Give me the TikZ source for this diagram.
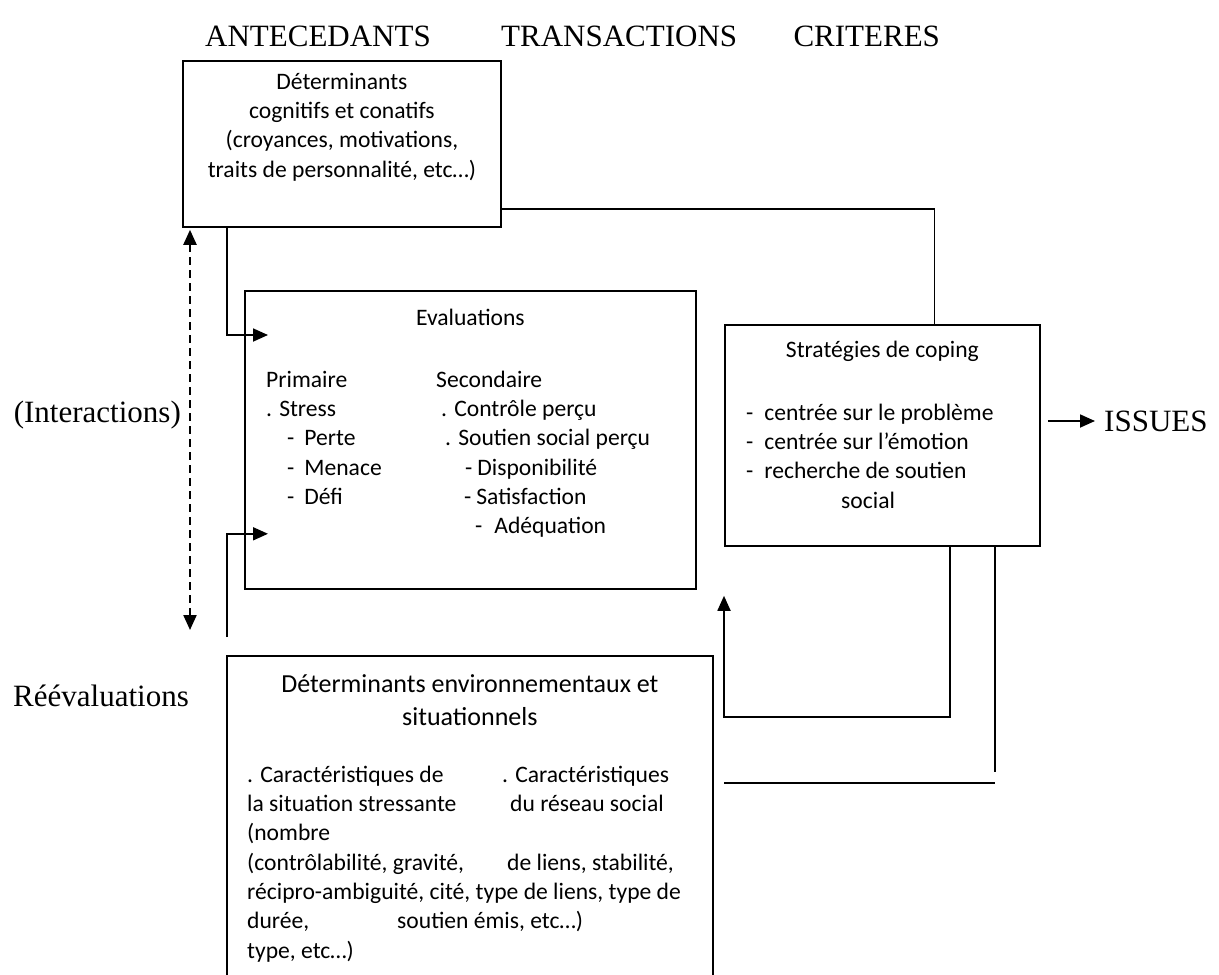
\documentclass[tikz,border=0pt]{standalone}
\usepackage{fontspec}
\setmainfont{Carlito}
\newfontfamily\romain{Liberation Serif}
\usetikzlibrary{arrows.meta,positioning}

\newcommand\fcorps{\fontsize{23.6pt}{29.3pt}\selectfont}
\newcommand\fgrand{\fontsize{26pt}{33pt}\selectfont}
\newcommand\fentete{\romain\fontsize{31pt}{37pt}\selectfont}
\newcommand\colonne[2]{\makebox[#1][l]{#2}}
\newcommand\haut{\rule{0pt}{20pt}}

\tikzset{
  cadre/.style={draw, line width=1.8pt, inner sep=0pt, anchor=north west},
  texte/.style={font=\fcorps, inner sep=0pt},
  entete/.style={font=\fentete, inner sep=0pt},
  lien/.style={line width=1.8pt},
  fleche/.style={lien, ->},
  pointille/.style={line width=2.2pt, dash pattern=on 8pt off 5pt, <->},
}

\begin{document}
\begin{tikzpicture}[x=1pt, y=-1pt, >={Triangle[length=15pt,width=13pt]}]
  \useasboundingbox (0,0) rectangle (1219,975);
  \clip (0,0) rectangle (1219,975);

  % en-tetes
  \node[entete, anchor=west] (ante) at (205,36) {ANTECEDANTS};
  \node[entete, right=70pt of ante] (trans) {TRANSACTIONS};
  \node[entete, right=56pt of trans] (crit) {CRITERES};

  % cadres
  \node[cadre, minimum width=318pt, minimum height=166pt] (cog) at (182,60) {};
  \node[texte, align=center, anchor=north] (cogtxt) at ([yshift=-9pt]cog.north)
    {\haut Déterminants\\cognitifs et conatifs\\(croyances, motivations,\\traits de personnalité, etc…)};

  \node[cadre, minimum width=451pt, minimum height=298pt] (eval) at (244,290) {};
  \node[texte] (evaltitre) at ([yshift=-27pt]eval.north) {Evaluations};
  \node[texte, align=left, anchor=north west] (evalcols) at ([xshift=22pt, yshift=-77pt]eval.north west)
    {\haut\colonne{170pt}{Primaire}Secondaire\\
     \colonne{175pt}{. Stress}. Contrôle perçu\\
     \colonne{179pt}{\hspace*{21pt}-\hspace{10pt}Perte}. Soutien social perçu\\
     \colonne{199pt}{\hspace*{21pt}-\hspace{10pt}Menace}-\hspace{5pt}Disponibilité\\
     \colonne{198pt}{\hspace*{21pt}-\hspace{10pt}Défi}-\hspace{5pt}Satisfaction\\
     \hspace*{209pt}-\hspace{12pt}Adéquation};

  \node[cadre, minimum width=315pt, minimum height=221pt] (strat) at (724,324) {};
  \node[texte] (strattitre) at ([yshift=-27pt]strat.north) {Stratégies de coping};
  \node[texte, align=left, anchor=north west] (stratliste) at ([xshift=22pt, yshift=-76pt]strat.north west)
    {\haut-\hspace{11pt}centrée sur le problème\\
     -\hspace{11pt}centrée sur l’émotion\\
     -\hspace{11pt}recherche de soutien\\
     \hspace*{95pt}social};

  \node[cadre, minimum width=486pt, minimum height=340pt] (env) at (226,655) {};
  \node[font=\fgrand, inner sep=0pt, align=center, anchor=north] (envtitre) at ([yshift=-15pt]env.north)
    {\rule{0pt}{22pt}Déterminants environnementaux et\\situationnels};
  \node[texte, align=left, anchor=north west] (envcorps) at ([xshift=21pt, yshift=-107pt]env.north west)
    {\haut\colonne{255pt}{. Caractéristiques de}. Caractéristiques\\
     \colonne{263pt}{la situation stressante}du réseau social\\
     (nombre\\
     \colonne{260pt}{(contrôlabilité, gravité,}de liens, stabilité,\\
     récipro-ambiguité, cité, type de liens, type de\\
     \colonne{150pt}{durée,}soutien émis, etc…)\\
     type, etc…)};

  % etiquettes laterales
  \node[entete, anchor=east] (inter) at (181,415) {(Interactions)};
  \node[entete, anchor=east] (reeval) at (189,696) {Réévaluations};
  \node[entete, anchor=west] (issues) at (1104,421) {ISSUES};

  % liaisons
  \draw[fleche] ([xshift=45pt]cog.south west) |- ([xshift=24pt, yshift=-45pt]eval.north west);
  \coordinate (basgauche) at (227,637);
  \draw[fleche] (basgauche) |- ([xshift=24pt, yshift=56pt]eval.south west);
  \draw[lien] ([yshift=19pt]cog.south east) -| ([xshift=52pt]strat.north);
  \draw[pointille] ([xshift=8pt, yshift=-2pt]cog.south west) -- ([xshift=-36pt, yshift=25pt]env.north west);
  \coordinate (depart) at (strat.east |- issues.west);
  \draw[fleche] ([xshift=7pt]depart) -- ([xshift=-9pt]issues.west);
  \draw[fleche] ([xshift=226pt]strat.south west) -- ++(0,170) -| ([yshift=-49pt]strat.south west);
  \draw[lien] ([xshift=271pt]strat.south west) -- ++(0,225);
  \draw[lien] ([yshift=-236pt]strat.south west) -- ++(271,0);
\end{tikzpicture}
\end{document}
